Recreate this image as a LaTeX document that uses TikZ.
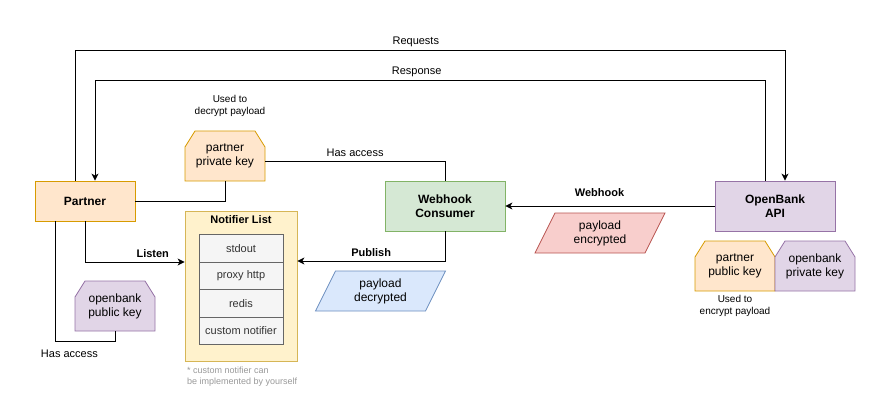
\documentclass[tikz,border=0pt]{standalone}
\usepackage{fontspec}
\setmainfont{Liberation Sans}
\usetikzlibrary{arrows.meta}

\definecolor{orangeF}{HTML}{FFE6CC}\definecolor{orangeD}{HTML}{D79B00}
\definecolor{yellowF}{HTML}{FFF2CC}\definecolor{yellowD}{HTML}{D6B656}
\definecolor{greenF}{HTML}{D5E8D4}\definecolor{greenD}{HTML}{82B366}
\definecolor{blueF}{HTML}{DAE8FC}\definecolor{blueD}{HTML}{6C8EBF}
\definecolor{purpleF}{HTML}{E1D5E7}\definecolor{purpleD}{HTML}{9673A6}
\definecolor{redF}{HTML}{F8CECC}\definecolor{redD}{HTML}{B85450}
\definecolor{greyF}{HTML}{F5F5F5}\definecolor{greyD}{HTML}{666666}
\definecolor{greyT}{HTML}{333333}\definecolor{noteT}{HTML}{999999}

% key shape: rectangle with cut top corners, centre at (#2,#3)
\newcommand{\keytag}[5]{%
  \draw[#4] (#2,#3) ++(-40,25) -- ++(0,-34) -- ++(10,-16) -- ++(60,0)
    -- ++(10,16) -- ++(0,34) -- cycle;
  \node[txt,align=center,minimum width=80pt,minimum height=50pt] (#1) at (#2,#3) {#5};}
% slanted data box, centre at (#2,#3)
\newcommand{\databox}[5]{%
  \draw[#4] (#2,#3) ++(-65,20) -- ++(20,-40) -- ++(110,0) -- ++(-20,40) -- cycle;
  \node[txt,align=center,minimum width=110pt,minimum height=40pt] (#1) at (#2,#3) {#5};}

\begin{document}
\begin{tikzpicture}[x=1pt,y=-1pt,>={Stealth[length=7pt,width=7pt,inset=2pt]},
  txt/.style={font=\fontsize{12}{14}\selectfont,inner sep=0pt},
  box/.style={draw,line width=0.8pt,minimum width=100pt,minimum height=40pt,
    inner sep=0pt,font=\bfseries\fontsize{12}{14}\selectfont,align=center},
  item/.style={draw=greyD,fill=greyF,line width=1pt,minimum width=84pt,
    minimum height=27.5pt,inner sep=0pt,text=greyT,font=\fontsize{11}{13}\selectfont},
  conn/.style={draw,line width=0.9pt},
  lbl/.style={font=\fontsize{11}{13}\selectfont,inner sep=3.5pt},
  blbl/.style={font=\bfseries\fontsize{11}{13}\selectfont,inner sep=3.5pt},
  small/.style={font=\fontsize{10}{12}\selectfont,align=center,inner sep=0pt}]
\useasboundingbox (0,0) rectangle (881,417);

\node[box,fill=orangeF,draw=orangeD] (partner) at (85,201) {Partner};
\node[box,fill=greenF,draw=greenD,minimum width=120pt,minimum height=50pt] (consumer) at (445,206) {Webhook\\Consumer};
\node[box,fill=purpleF,draw=purpleD,minimum width=120pt,minimum height=50pt] (openbank) at (775,206) {OpenBank\\API};

\keytag{ppriv}{225}{156}{fill=orangeF,draw=orangeD,line width=0.8pt}{partner\\private key}
\keytag{opub}{115}{306}{fill=purpleF,draw=purpleD,line width=0.8pt}{openbank\\public key}
\keytag{ppub}{735}{266}{fill=orangeF,draw=orangeD,line width=0.8pt}{partner\\public key}
\keytag{opriv}{815}{266}{fill=purpleF,draw=purpleD,line width=0.8pt}{openbank\\private key}

\databox{pdec}{380.5}{291}{fill=blueF,draw=blueD,line width=0.8pt}{payload\\decrypted}
\databox{penc}{600}{233}{fill=redF,draw=redD,line width=0.8pt}{payload\\encrypted}

% notifier list
\node[draw=yellowD,fill=yellowF,line width=0.8pt,minimum width=112pt,minimum height=150pt,inner sep=0pt] (notif) at (241,286) {};
\node[font=\bfseries\fontsize{11}{13}\selectfont,inner sep=0pt] (notiftitle) at (241,220) {Notifier List};
\node[item] (stdout) at (241,248.5) {stdout};
\node[item] (proxy) at (241,276) {proxy http};
\node[item] (redis) at (241,303.5) {redis};
\node[item] (custom) at (241,331) {custom notifier};
\node[font=\fontsize{9}{10.5}\selectfont,text=noteT,align=left,anchor=north west,inner sep=0pt] (note) at (187,367) {* custom notifier can\\be implemented by yourself};

\node[small] (usedec) at (230,106) {Used to\\decrypt payload};
\node[small] (useenc) at (735,306) {Used to\\encrypt payload};

% connectors
\draw[conn,->] ([xshift=-10pt]partner.north) -- ++(0,-130) -| node[lbl,above,pos=0.24] {Requests} ([xshift=10pt]openbank.north);
\draw[conn,->] ([xshift=-10pt]openbank.north) -- ++(0,-100) -| node[lbl,above,pos=0.26] {Response} ([xshift=10pt]partner.north);
\draw[conn] (partner.east) -| (ppriv.south);
\draw[conn] ([yshift=-5pt]ppriv.east) -| node[lbl,above,pos=0.25] {Has access} (consumer.north);
\draw[conn,->] (openbank.west) -- node[blbl,above=5pt,pos=0.55] {Webhook} (consumer.east);
\draw[conn,->] (consumer.south) |- node[blbl,above,pos=0.75] {Publish} ([yshift=25pt]notif.east);
\draw[conn,->] (partner.south) |- node[blbl,above,pos=0.84] {Listen} ([yshift=24pt]notif.west);
\draw[conn] ([xshift=-30pt]partner.south) -- ++(0,120) -| node[lbl,below=5pt,pos=0.12] {Has access} (opub.south);
\end{tikzpicture}
\end{document}
